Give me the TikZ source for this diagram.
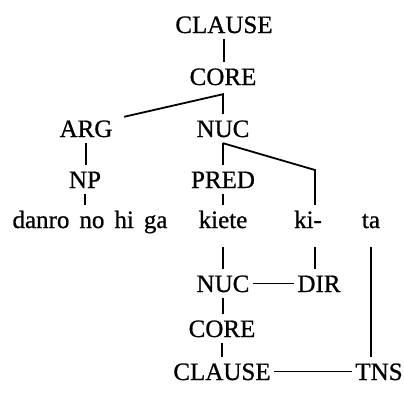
\documentclass[tikz,border=0pt]{standalone}
\usepackage{fontspec}
\setmainfont{Liberation Serif}
\newfontfamily\thickserif[FakeBold=0.8]{Liberation Serif}
\usetikzlibrary{calc}
\begin{document}
\begin{tikzpicture}[x=1pt,y=-1pt,
  lab/.style={anchor=base,font=\thickserif\fontsize{25}{30}\selectfont,text height=17pt,text depth=0pt,inner xsep=3pt,inner ysep=6pt},
  word/.style={lab,text depth=13pt},
  ln/.style={line width=1.8pt,line cap=butt}]
\useasboundingbox (0,0) rectangle (404,400);
% nodes
\node[lab] (clause1) at (224,33) {CLAUSE};
\node[lab] (core1) at (223,85) {CORE};
\node[lab] (arg) at (86,137) {ARG};
\node[lab] (nuc1) at (223,137) {NUC};
\node[lab] (np) at (85,188) {NP};
\node[lab] (pred) at (223,188) {PRED};
\node[word] (danro) at (90,228) {\spaceskip=10pt danro no hi ga};
\node[word] (kiete) at (223,228) {kiete};
\node[word] (ki) at (308,228) {ki-};
\node[word] (ta) at (371,228) {ta};
\node[lab] (nuc2) at (223,292) {NUC};
\node[lab] (dir) at (319,292) {DIR};
\node[lab] (core2) at (222,337) {CORE};
\node[lab] (clause2) at (222,380) {CLAUSE};
\node[lab] (tns) at (379,380) {TNS};
% helper coordinates
\coordinate (j1) at ($(core1.south)+(0,3)$);
\coordinate (argend) at ($(arg.north east)+(8.5,3)$);
\coordinate (k1) at (315,170);
% connectors
\draw[ln] (clause1.south) -- (clause1.south |- core1.north);
\draw[ln] (argend) -- (j1) -- (j1 |- nuc1.north);
\draw[ln] (arg.south) -- (arg.south |- np.north);
\draw[ln] (np.south) -- (np.south |- danro.north);
\draw[ln] (nuc1.south) -- (pred.north);
\draw[ln] (nuc1.south) -- (k1) -- (k1 |- ki.north);
\draw[ln] (pred.south) -- (pred.south |- kiete.north);
\draw[ln] (kiete.south) -- (kiete.south |- nuc2.north);
\draw[ln] (k1 |- ki.south) -- (k1 |- dir.north);
\draw[ln] (nuc2.east) -- (dir.west);
\draw[ln] (nuc2.south) -- (nuc2.south |- core2.north);
\draw[ln] (core2.south) -- (core2.south |- clause2.north);
\draw[ln] (clause2.east) -- (tns.west);
\draw[ln] (ta.south) -- (ta.south |- tns.north);
\end{tikzpicture}
\end{document}
